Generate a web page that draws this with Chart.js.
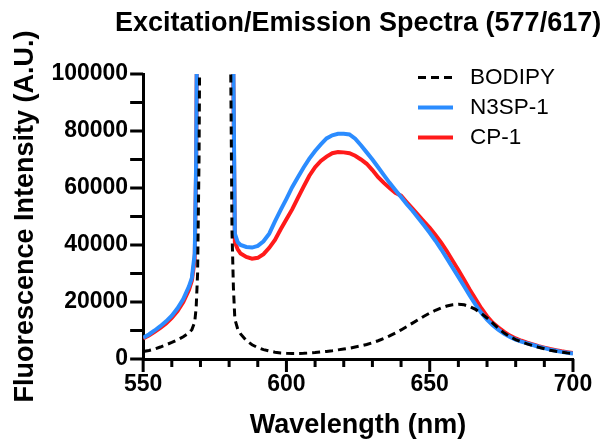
<!DOCTYPE html>
<html>
<head>
<meta charset="utf-8">
<script src="https://cdn.jsdelivr.net/npm/chart.js"></script>
<style>
  body { margin: 0; background: #fff; }
  canvas { display: block; }
</style>
</head>
<body>
<canvas id="spectraChart" width="604" height="444"></canvas>

<script>
  // wavelengths (nm), shared by all three series; null = no reading (gap between excitation and emission)
  const wavelengths = [
    550, 552, 554, 556, 558, 560, 562, 564, 566,
    567, 568, 568.5, 569, 569.5, 570,
    575,
    580, 580.5, 581, 581.5, 582, 583,
    584, 586, 588, 590, 592, 594, 596, 598, 600, 602,
    604, 606, 608, 610, 612, 614, 616, 618, 620, 622,
    624, 626, 628, 630, 632, 634, 636, 638, 640, 642,
    644, 646, 648, 650, 652, 654, 656, 658, 660, 662,
    664, 666, 668, 670, 672, 674, 676, 678, 680, 682,
    684, 686, 688, 690, 692, 694, 696, 698, 700
  ]

  const bodipy = [
    2600, 3000, 3500, 4200, 5000, 5800, 6700, 7800, 9200,
    10300, 13000, 18000, 30000, 70000, 150000,
    null,
    150000, 110000, 45000, 25000, 14000, 10500,
    8800, 6500, 5000, 4000, 3300, 2800, 2400, 2100, 2000, 1950,
    1950, 2000, 2100, 2250, 2450, 2650, 2900, 3200, 3500, 3800,
    4200, 4600, 5100, 5700, 6400, 7200, 8100, 9100, 10200, 11400,
    12600, 13800, 15000, 16100, 17100, 17900, 18600, 19000, 19200, 19000,
    18400, 17400, 16000, 14400, 12600, 10700, 9100, 7800, 6800, 6000,
    5300, 4700, 4100, 3600, 3100, 2700, 2400, 2150, 1950
  ]

  const n3sp1 = [
    7500, 8600, 10000, 11500, 13200, 15200, 17800, 21000, 25500,
    28500, 37000, 70000, 150000, null, null,
    null,
    null, null, 150000, 100000, 44000, 41000,
    40000, 39300, 39100, 39700, 41300, 44000, 48300, 52300, 56200, 60300,
    63800, 67200, 70300, 73000, 75300, 77400, 78500, 79000, 79000, 78800,
    77300, 75000, 72500, 70000, 67300, 64500, 61800, 59300, 56800, 54300,
    52000, 49500, 46900, 44300, 41500, 38500, 35300, 32000, 28800, 25500,
    22200, 19100, 16200, 13800, 11800, 10200, 8800, 7700, 6800, 6100,
    5500, 4900, 4300, 3800, 3300, 2900, 2500, 2200, 1900
  ]

  const cp1 = [
    7200, 8200, 9500, 10900, 12500, 14400, 16800, 20000, 24300,
    27500, 35000, 68000, 150000, null, null,
    null,
    null, null, 150000, 95000, 41000, 38500,
    37000, 35800, 35200, 35500, 36800, 39000, 41800, 45500, 49000, 52500,
    56500, 60500, 64300, 67300, 69500, 71000, 72200, 72600, 72500, 72200,
    71300, 70000, 68500, 66300, 63800, 61800, 60000, 58300, 57300, 55000,
    52800, 50500, 48200, 46000, 43500, 40800, 37800, 34500, 31200, 27800,
    24300, 21000, 17800, 15000, 12700, 11000, 9500, 8200, 7200, 6400,
    5700, 5100, 4500, 4000, 3500, 3100, 2700, 2400, 2100
  ]

  const seriesNames = ['BODIPY', 'N3SP-1', 'CP-1']
  const titleText = 'Excitation/Emission Spectra (577/617)'

  const FONT = "'Liberation Sans', Arial, Helvetica, sans-serif"

  // pairs wavelength + value for the linear x scale
  function toPoints(values) {
    return wavelengths.map((w, i) => ({ x: w, y: values[i] }))
  }

  // title centred over the plot area (not the whole canvas)
  const plotTitle = {
    id: 'plotTitle',
    afterDraw(chart) {
      const ctx = chart.ctx
      const area = chart.chartArea
      ctx.save()
      ctx.font = 'bold 27px ' + FONT
      ctx.fillStyle = '#000'
      ctx.textAlign = 'center'
      ctx.textBaseline = 'middle'
      ctx.fillText(titleText, (area.left + area.right) / 2, 24)
      ctx.restore()
    }
  }

  // tick marks, taken from the scales' own ticks: long on labelled ticks, short on the others (x)
  const axisTicks = {
    id: 'axisTicks',
    afterDraw(chart) {
      const ctx = chart.ctx
      const area = chart.chartArea
      const xScale = chart.scales.x
      const yScale = chart.scales.y
      ctx.save()
      ctx.strokeStyle = '#000'
      ctx.lineWidth = 3
      ctx.beginPath()
      xScale.ticks.forEach(t => {
        const px = xScale.getPixelForValue(t.value)
        const len = t.value % 50 === 0 ? 13 : 8
        ctx.moveTo(px, area.bottom)
        ctx.lineTo(px, area.bottom + len)
      })
      yScale.ticks.forEach(t => {
        const py = yScale.getPixelForValue(t.value)
        ctx.moveTo(area.left - 13, py)
        ctx.lineTo(area.left, py)
      })
      ctx.stroke()
      ctx.restore()
    }
  }

  // legend in the top right corner of the plot, line samples taken from the datasets
  const insideLegend = {
    id: 'insideLegend',
    afterDraw(chart) {
      const ctx = chart.ctx
      const area = chart.chartArea
      const x0 = area.right - 155
      ctx.save()
      ctx.font = '22.5px ' + FONT
      ctx.textBaseline = 'middle'
      chart.data.datasets.forEach((ds, i) => {
        const y = area.top + 3.5 + i * 30
        ctx.strokeStyle = ds.borderColor
        ctx.lineWidth = ds.borderWidth
        ctx.setLineDash(ds.borderDash || [])
        ctx.beginPath()
        ctx.moveTo(x0, y)
        ctx.lineTo(x0 + 35, y)
        ctx.stroke()
        ctx.fillStyle = '#000'
        ctx.fillText(ds.label, x0 + 52, y)
      })
      ctx.restore()
    }
  }

  const ctx = document.getElementById('spectraChart')

  new Chart(ctx, {
    type: 'line',
    data: {
      datasets: [{
        label: seriesNames[0],
        data: toPoints(bodipy),
        borderColor: '#000000',
        borderWidth: 3,
        borderDash: [8, 5]
      }, {
        label: seriesNames[1],
        data: toPoints(n3sp1),
        borderColor: '#2b8cff',
        borderWidth: 4
      }, {
        label: seriesNames[2],
        data: toPoints(cp1),
        borderColor: '#ff1a1a',
        borderWidth: 4
      }]
    },
    options: {
      responsive: false,
      animation: false,
      spanGaps: false,
      elements: {
        point: { radius: 0 },
        line: { tension: 0 }
      },
      layout: {
        padding: { top: 74, right: 31, bottom: 2, left: 4 }
      },
      plugins: {
        legend: { display: false },
        title: { display: false },
        tooltip: { enabled: false }
      },
      scales: {
        x: {
          type: 'linear',
          min: 550,
          max: 700,
          border: { color: '#000', width: 3 },
          grid: { drawOnChartArea: false, tickLength: 11, tickColor: 'rgba(0,0,0,0)' },
          ticks: {
            stepSize: 10,
            autoSkip: false,
            maxRotation: 0,
            padding: 1,
            color: '#000',
            font: { family: FONT, size: 23, weight: 'bold' },
            callback: v => (v % 50 === 0 ? String(v) : '')
          },
          title: {
            display: true,
            text: 'Wavelength (nm)',
            color: '#000',
            font: { family: FONT, size: 27, weight: 'bold' },
            padding: { top: 10, bottom: 0 }
          }
        },
        y: {
          min: 0,
          max: 100000,
          border: { color: '#000', width: 3 },
          grid: { drawOnChartArea: false, tickLength: 13, tickColor: 'rgba(0,0,0,0)' },
          ticks: {
            stepSize: 10000,
            autoSkip: false,
            padding: 2,
            color: '#000',
            font: { family: FONT, size: 23, weight: 'bold' },
            callback: v => (v % 20000 === 0 ? String(v) : '')
          },
          title: {
            display: true,
            text: 'Fluorescence Intensity (A.U.)',
            color: '#000',
            font: { family: FONT, size: 27, weight: 'bold' },
            padding: { top: 5, bottom: 8 }
          }
        }
      }
    },
    plugins: [axisTicks, plotTitle, insideLegend]
  })
</script>
</body>
</html>
